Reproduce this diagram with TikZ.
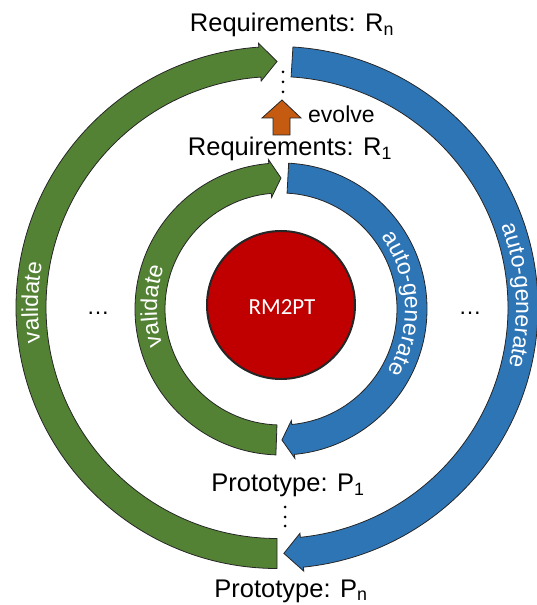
\documentclass[tikz,border=0pt]{standalone}
\usepackage{fontspec}
\setmainfont{Liberation Sans}
\newfontfamily\lblfont{Liberation Sans}
\newfontfamily\calibfont{Carlito}
\usetikzlibrary{decorations.text}
\definecolor{pgreen}{HTML}{548235}
\definecolor{pblue}{HTML}{2E75B6}
\definecolor{pred}{HTML}{C00000}
\definecolor{porange}{HTML}{C55A11}
\definecolor{pline}{HTML}{262626}
\begin{document}
\begin{tikzpicture}[x=1pt,y=1pt,
  greenband/.style={fill=pgreen,draw=pline,line width=0.8pt},
  blueband/.style={fill=pblue,draw=pline,line width=0.8pt},
  lbl/.style={font=\lblfont\fontsize{25.5}{30}\selectfont, anchor=base, inner sep=0pt},
  dotmark/.style={fill=black},
  arclabel/.style={decorate, decoration={text along path, text align=center,
     text={|\lblfont\upshape\fontsize{23}{27}\selectfont\color{white}|#1}}},
]
\useasboundingbox (0,0) rectangle (537,605);

% outer ring
\begin{scope}[shift={(277,297.5)}]
  \draw[greenband] (270:231) -- (270:261) arc[start angle=270, end angle=94, radius=261]
     -- (94:265) -- (90:246) -- (94:227) -- (94:231)
     arc[start angle=94, end angle=270, radius=231] -- cycle;
  \draw[blueband] (86.5:231) -- (86.5:261) arc[start angle=86.5, end angle=-84.2, radius=261]
     -- (-84.2:265) -- (-88.4:246) -- (-84.2:227) -- (-84.2:231)
     arc[start angle=-84.2, end angle=86.5, radius=231] -- cycle;
  \path[arclabel=validate] (208.8:239) arc[start angle=208.8, end angle=148.8, radius=239];
  \path[arclabel=auto-generate] (32.9:239) arc[start angle=32.9, end angle=-27.1, radius=239];
\end{scope}

% inner ring
\begin{scope}[shift={(281,296)}]
  \draw[greenband] (268:116) -- (268:146) arc[start angle=268, end angle=94.8, radius=146]
     -- (94.8:150) -- (90:131) -- (94.8:112) -- (94.8:116)
     arc[start angle=94.8, end angle=268, radius=116] -- cycle;
  \draw[blueband] (87:116) -- (87:146) arc[start angle=87, end angle=-84.7, radius=146]
     -- (-84.7:150) -- (-89.6:131) -- (-84.7:112) -- (-84.7:116)
     arc[start angle=-84.7, end angle=87, radius=116] -- cycle;
  \path[arclabel=validate] (218.7:124) arc[start angle=218.7, end angle=138.7, radius=124];
  \path[arclabel=auto-generate] (52.6:124) arc[start angle=52.6, end angle=-47.4, radius=124];
\end{scope}

% core
\node[circle, fill=pred, draw=pline, line width=2pt, minimum size=148pt, inner sep=0pt] (core) at (281,300) {};
\node[font=\calibfont\fontsize{23}{28}\selectfont, text=white, inner sep=0pt] (coretext) at (282,298) {RM2PT};

% evolve arrow
\draw[fill=porange, draw=pline, line width=0.8pt] (282,505) -- (301,487) -- (290,487) -- (290,470)
   -- (273,470) -- (273,487) -- (262,487) -- cycle;

% labels
\node[lbl] (rn) at (292,573) {Requirements: R\textsubscript{n}};
\node[lbl] (r1) at (290,449) {Requirements: R\textsubscript{1}};
\node[lbl, anchor=base west, font=\lblfont\fontsize{23}{27}\selectfont] (evolve) at (308,482) {evolve};
\node[lbl] (p1) at (288,113) {Prototype: P\textsubscript{1}};
\node[lbl] (pn) at (291,8) {Prototype: P\textsubscript{n}};
\node[font=\lblfont\fontsize{23}{28}\selectfont, inner sep=0pt, anchor=base] (ldots) at (98,290) {…};
\node[font=\lblfont\fontsize{23}{28}\selectfont, inner sep=0pt, anchor=base] (rdots) at (470,290) {…};

% vertical dots
\fill[dotmark] (283,533) circle (1.5) (283,523) circle (1.5) (283,513) circle (1.5);
\fill[dotmark] (285,98) circle (1.5) (285,88) circle (1.5) (285,79) circle (1.5);
\end{tikzpicture}
\end{document}
